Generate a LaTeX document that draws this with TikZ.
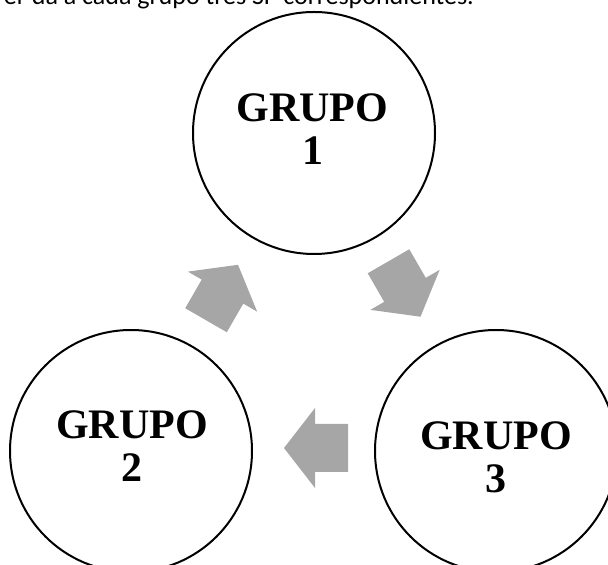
\documentclass[tikz,border=0pt]{standalone}
\usepackage{fontspec}
\setmainfont{Liberation Serif}
\newfontfamily\capfont{Carlito}
\definecolor{arrowgray}{RGB}{166,166,166}
\begin{document}
\begin{tikzpicture}[x=1pt,y=1pt,
  grupo/.style={circle,draw=black,line width=2pt,minimum size=242pt,inner sep=0pt},
  grupotext/.style={align=center,inner sep=0pt,font=\bfseries\fontsize{42}{43}\selectfont},
  bigarrow/.pic={\fill[arrowgray] (-32,-24) -- (1,-24) -- (1,-40) -- (32,0) -- (1,40) -- (1,24) -- (-32,24) -- cycle;}]
\useasboundingbox (0,0) rectangle (608,565);
% circles
\node[grupo] (g1) at (314,432) {};
\node[grupo] (g2) at (131,114) {};
\node[grupo] (g3) at (496,114) {};
% texts
\node[grupotext] (t1) at (312.5,435.5) {GRUPO\\1};
\node[grupotext] (t2) at (132,119) {GRUPO\\2};
\node[grupotext] (t3) at (496,108) {GRUPO\\3};
% arrows
\pic[rotate=60] at (222,272.5) {bigarrow};
\pic[rotate=-60] at (404.5,276) {bigarrow};
\pic[rotate=180] at (316,117) {bigarrow};
% clipped caption at the top
\node[anchor=base east,inner sep=0pt,font=\capfont\fontsize{26}{26}\selectfont] (cap) at (474,560) {er da a cada grupo tres SP correspondientes.};
\end{tikzpicture}
\end{document}
